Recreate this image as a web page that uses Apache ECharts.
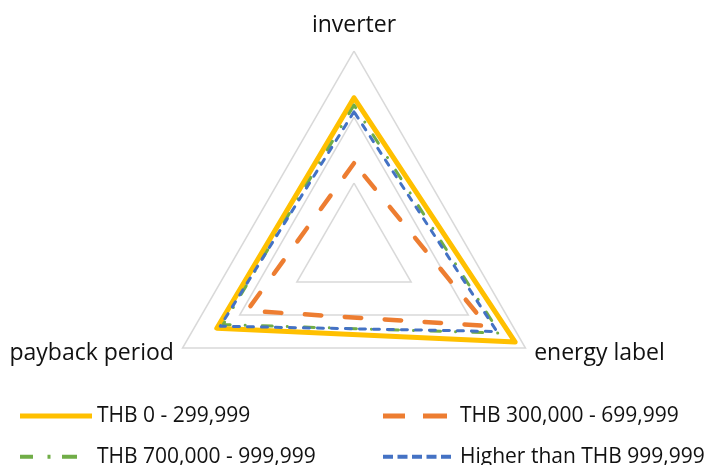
<!DOCTYPE html>
<html>
<head>
<meta charset="utf-8">
<script src="https://cdn.jsdelivr.net/npm/echarts@6/dist/echarts.min.js"></script>
<style>
  html, body { margin: 0; padding: 0; background: #fff; }
  #chart { width: 708px; height: 465px; }
</style>
</head>
<body>
<div id="chart"></div>
<script>
// Radar axes (drawn counter-clockwise from the top)
const indicators = ['inverter', 'payback period', 'energy label'];
const axisMax = 3;

// Income groups
const seriesNames = [
  'THB 0 - 299,999',
  'THB 300,000 - 699,999',
  'THB 700,000 - 999,999',
  'Higher than THB 999,999'
];

// Scores per group, in indicator order
const thb0to299k = [2.29, 2.40, 2.82];
const thb300kto699k = [1.30, 1.87, 2.33];
const thb700kto999k = [2.18, 2.29, 2.55];
const thbAbove999k = [2.08, 2.34, 2.50];

const groupValues = [thb0to299k, thb300kto699k, thb700kto999k, thbAbove999k];

const colors = ['#FFC000', '#ED7D31', '#70AD47', '#4472C4'];
const lineStyles = [
  { width: 5, type: 'solid', cap: 'round', join: 'round' },
  { width: 4.5, type: [16.5, 23.5], cap: 'round', join: 'round' },
  { width: 3, type: [10, 15, 0.1, 17], cap: 'round', join: 'round' },
  { width: 3, type: [6, 8], cap: 'round', join: 'round' }
];

// Legend glyphs: each path spans a 72 x 5 box so they all scale alike
const legendIcons = [
  'path://M0,0 H72 V5 H0 Z',
  'path://M72,5 M0,0 H22 V5 H0 Z M40,0 H64 V5 H40 Z',
  'path://M72,5 M0,0.5 H13 V4.5 H0 Z M27.5,0.5 H30.5 V4.5 H27.5 Z M42,0.5 H57 V4.5 H42 Z',
  'path://M72,5 M0,0.5 H10 V4.5 H0 Z M14.5,0.5 H24.5 V4.5 H14.5 Z M29,0.5 H39 V4.5 H29 Z M43.5,0.5 H53.5 V4.5 H43.5 Z M58,0.5 H68 V4.5 H58 Z'
];

const font = 'Open Sans';

const series = [{
  type: 'radar',
  symbol: 'none',
  silent: true,
  data: seriesNames.map((name, i) => ({
    name: name,
    value: groupValues[i],
    lineStyle: Object.assign({ color: colors[i] }, lineStyles[i]),
    itemStyle: { color: colors[i] },
    areaStyle: null
  }))
}];

function legendColumn(left, idxs) {
  return {
    orient: 'vertical',
    left: left,
    top: 405,
    width: 320,
    height: 120,
    padding: 0,
    itemWidth: 72,
    itemHeight: 5,
    itemGap: 19,
    selectedMode: false,
    itemStyle: { borderWidth: 0 },
    textStyle: { fontFamily: font, fontSize: 21, color: '#111', lineHeight: 22 },
    data: idxs.map(i => ({ name: seriesNames[i], icon: legendIcons[i], itemStyle: { color: colors[i] } }))
  };
}

const chart = echarts.init(document.getElementById('chart'), null, { renderer: 'canvas' });
chart.setOption({
  animation: false,
  backgroundColor: '#fff',
  color: colors,
  legend: [legendColumn(20, [0, 2]), legendColumn(383, [1, 3])],
  radar: {
    center: [354, 249],
    radius: 198,
    startAngle: 90,
    splitNumber: 3,
    shape: 'polygon',
    nameGap: 10,
    indicator: indicators.map(n => ({ name: n, min: 0, max: axisMax })),
    axisName: {
      color: '#111',
      fontFamily: font,
      fontSize: 23,
      // the top label sits a little higher above its vertex
      formatter: (name) => name === indicators[0] ? '{top|' + name + '}' : name,
      rich: {
        top: { fontFamily: font, fontSize: 23, color: '#111', padding: [0, 0, 4, 0] }
      }
    },
    axisLine: { show: false },
    axisTick: { show: false },
    axisLabel: { show: false },
    splitLine: { lineStyle: { color: '#d9d9d9', width: 1.5 } },
    splitArea: { show: false }
  },
  series: series
});
</script>
</body>
</html>
